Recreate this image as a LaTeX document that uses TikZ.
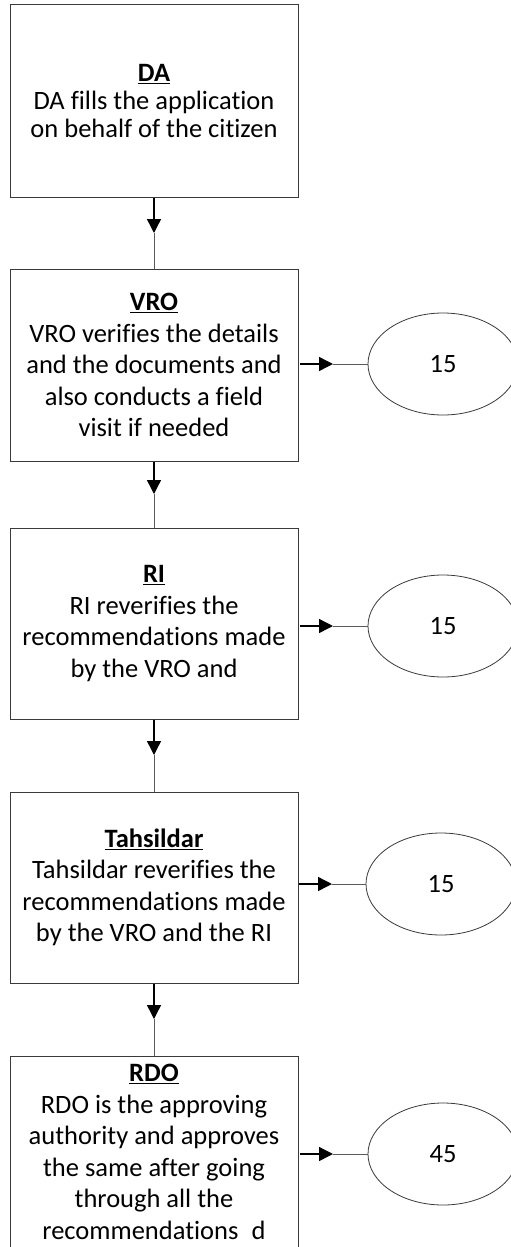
\documentclass[tikz,border=0pt]{standalone}
\usepackage{fontspec}
\setmainfont{Carlito}[Ligatures=NoCommon]
\usetikzlibrary{arrows.meta,shapes.geometric}
\definecolor{boxline}{HTML}{3A3A3A}
\definecolor{thinline}{HTML}{5A5A5A}
\tikzset{
  stepbox/.style={draw=boxline, line width=1pt, minimum width=288pt, minimum height=192pt,
    align=center, inner sep=0pt, font=\fontsize{26.5}{31.5}\selectfont},
  timeoval/.style={ellipse, draw=boxline, line width=0.8pt, minimum width=150pt, minimum height=102pt,
    inner sep=0pt, font=\fontsize{26.5}{30}\selectfont},
  blackarrow/.style={draw=black, line width=1.4pt, -{Triangle[length=14pt,width=14pt]}},
  grayline/.style={draw=thinline, line width=1pt},
}
\newcommand{\ttl}[1]{\underline{\textbf{#1}}}
\begin{document}
\begin{tikzpicture}[x=1pt,y=-1pt]
\useasboundingbox (0,0) rectangle (511,1247);
\clip (0,0) rectangle (511,1247);
\fill[white] (0,0) rectangle (511,1247);

\node[stepbox, font=\fontsize{26.5}{28}\selectfont] (da) at (154,101) {\ttl{DA}\\DA fills the application\\on behalf of the citizen};
\node[stepbox] (vro) at (154,365) {\ttl{VRO}\\VRO verifies the details\\and the documents and\\also conducts a field\\visit if needed};
\node[stepbox, minimum height=191pt] (ri) at (154,623.5) {\ttl{RI}\\RI reverifies the\\recommendations made\\by the VRO and};
\node[stepbox, minimum height=191pt] (tah) at (154,887.5) {\ttl{Tahsildar}\\Tahsildar reverifies the\\recommendations made\\by the VRO and the RI};
\node[stepbox] (rdo) at (154,1152) {\ttl{RDO}\\RDO is the approving\\authority and approves\\the same after going\\through all the\\recommendations\enspace d};

\node[timeoval] (e1) at (443,364) {15};
\node[timeoval] (e2) at (443,626) {15};
\node[timeoval] (e3) at (441,884) {15};
\node[timeoval] (e4) at (443,1154) {45};

% vertical connectors
\coordinate (v1) at (154,233);
\coordinate (v2) at (154,494);
\coordinate (v3) at (154,755);
\coordinate (v4) at (154,1019);
\draw[blackarrow] (da.south) -- (v1);
\draw[grayline] (v1) -- (vro.north);
\draw[blackarrow] (vro.south) -- (v2);
\draw[grayline] (v2) -- (ri.north);
\draw[blackarrow] (ri.south) -- (v3);
\draw[grayline] (v3) -- (tah.north);
\draw[blackarrow] (tah.south) -- (v4);
\draw[grayline] (v4) -- (rdo.north);

% horizontal connectors
\coordinate (h1) at (333,364);
\coordinate (h2) at (333,626);
\coordinate (h3) at (332,884);
\coordinate (h4) at (333,1154);
\coordinate (s1) at (300,364);
\coordinate (s2) at (300,626);
\coordinate (s3) at (299,884);
\coordinate (s4) at (300,1154);
\draw[blackarrow] (s1) -- (h1);
\draw[grayline] (h1) -- (e1.west);
\draw[blackarrow] (s2) -- (h2);
\draw[grayline] (h2) -- (e2.west);
\draw[blackarrow] (s3) -- (h3);
\draw[grayline] (h3) -- (e3.west);
\draw[blackarrow] (s4) -- (h4);
\draw[grayline] (h4) -- (e4.west);
\end{tikzpicture}
\end{document}
